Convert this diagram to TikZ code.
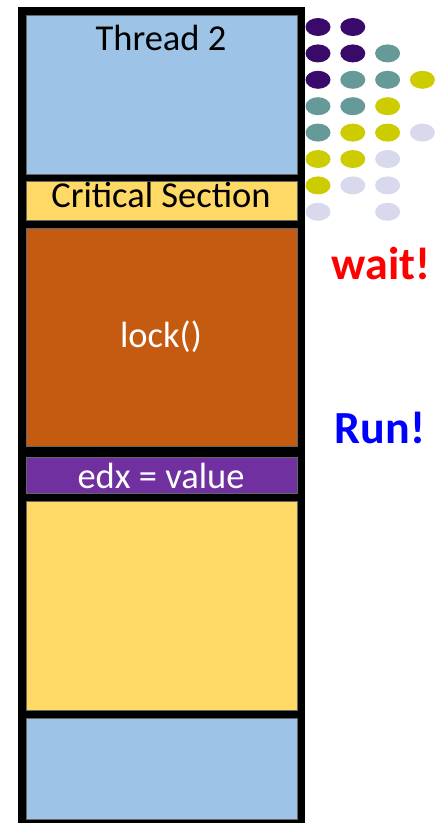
\documentclass[tikz,border=0pt]{standalone}
\usepackage{fontspec}
\setmainfont{Carlito}
\definecolor{tblue}{HTML}{9DC3E6}
\definecolor{tyellow}{HTML}{FFD966}
\definecolor{torange}{HTML}{C55A11}
\definecolor{tpurple}{HTML}{7030A0}
\definecolor{dP}{HTML}{3A0A6A}
\definecolor{dT}{HTML}{669A99}
\definecolor{dY}{HTML}{CCCC00}
\definecolor{dL}{HTML}{D9D9EE}
\begin{document}
\begin{tikzpicture}[x=1pt,y=-1pt,
  block/.style={draw=black!60,line width=0.6pt},
  lbl/.style={anchor=base,inner sep=0pt,font=\fontsize{36.5}{40}\selectfont},
  shout/.style={anchor=base,inner sep=0pt,font=\bfseries\fontsize{46}{50}\selectfont},
  dot/.style={fill=#1,draw=none}]
\useasboundingbox (0,0) rectangle (438,825);
% black frame holding the blocks
\fill[black] (18,7) rectangle (305,823);
% stacked blocks
\draw[block,fill=tblue]   (26,15)  rectangle (297,174);
\draw[block,fill=tyellow] (26,181) rectangle (297,220);
\draw[block,fill=torange] (26,228) rectangle (297,446);
\draw[block,fill=tpurple] (26,457) rectangle (297,493);
\draw[block,fill=tyellow] (26,501) rectangle (297,710);
\draw[block,fill=tblue]   (26,718) rectangle (297,819);
% block labels
\node[lbl] (thread) at (161,50) {Thread 2};
\node[lbl] (cs) at (161,207) {Critical Section};
\node[lbl,text=white] (lock) at (161,347) {lock()};
\node[lbl,text=white] (edx) at (161,488) {edx = value};
% status words
\node[shout,text=red] (wait) at (381,279) {wait!};
\node[shout,text=blue] (run) at (380,443) {Run!};
% waiting-thread dots
\foreach \c/\col/\row in {dP/0/0,dP/1/0,
  dP/0/1,dP/1/1,dT/2/1,
  dP/0/2,dT/1/2,dT/2/2,dY/3/2,
  dT/0/3,dT/1/3,dY/2/3,
  dT/0/4,dY/1/4,dY/2/4,dL/3/4,
  dY/0/5,dY/1/5,dL/2/5,
  dY/0/6,dL/1/6,dL/2/6,
  dL/0/7,dL/2/7}
  \fill[\c] ({318+34.8*\col},{27+26.4*\row}) ellipse (12.5 and 9);
\end{tikzpicture}
\end{document}
